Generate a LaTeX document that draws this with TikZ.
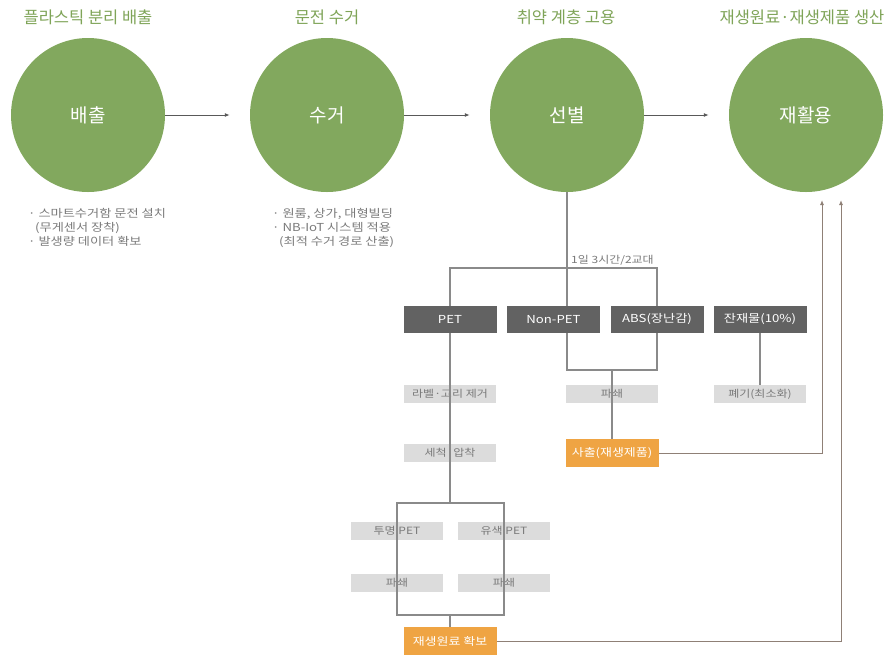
\documentclass[tikz,border=0pt]{standalone}
\usepackage{fontspec}
\setmainfont{Noto Sans CJK KR}
\newfontfamily\widekr[FakeStretch=1.2]{Noto Sans CJK KR}
\usetikzlibrary{arrows.meta}
\pgfdeclarelayer{links}
\pgfdeclarelayer{top}
\pgfsetlayers{main,links,top}

\definecolor{leaf}{HTML}{82A85E}
\definecolor{leaftext}{HTML}{7FA458}
\definecolor{boxdark}{HTML}{626262}
\definecolor{boxlight}{HTML}{DCDCDC}
\definecolor{amber}{HTML}{EFA443}
\definecolor{wire}{HTML}{8A8A8A}
\definecolor{feed}{HTML}{8F8076}
\definecolor{notegray}{HTML}{7A7A7A}

\tikzset{
  stage/.style={circle, fill=leaf, minimum size=154pt, inner sep=0pt, text=white,
    font=\fontsize{19}{21}\selectfont},
  headline/.style={text=leaftext, font=\fontsize{16.5}{18}\selectfont},
  note/.style={text=notegray, anchor=north west, align=left, inner sep=0pt,
    font=\widekr\fontsize{11}{14}\selectfont},
  sortbox/.style={fill=boxdark, text=white, minimum width=93pt, minimum height=27pt,
    inner sep=0pt, font=\widekr\fontsize{11}{12}\selectfont},
  workbox/.style={fill=boxlight, text=notegray, minimum width=92pt, minimum height=18pt,
    inner sep=0pt, font=\widekr\fontsize{10}{11}\selectfont},
  outbox/.style={fill=amber, text=white, minimum width=93pt, minimum height=28pt,
    inner sep=0pt, font=\widekr\fontsize{10.8}{12}\selectfont},
  link/.style={draw=wire, line width=1.1pt},
  flow/.style={draw=black!65, line width=1pt, -{Latex[length=5pt,width=4pt]}},
  feedback/.style={draw=feed, line width=1pt, -{Latex[length=5pt,width=4pt]}},
  shiftnote/.style={text=notegray, font=\widekr\fontsize{10}{11}\selectfont,
    anchor=south west, inner sep=1pt}
}

\begin{document}
\begin{tikzpicture}[x=1pt, y=-1pt]
\useasboundingbox (0,0) rectangle (885,657);

% stage headings
\node[headline] (h1) at (88,17) {플라스틱 분리 배출};
\node[headline] (h2) at (327,17) {문전 수거};
\node[headline] (h3) at (566,17) {취약 계층 고용};
\node[headline] (h4) at (802,17) {재생원료·재생제품 생산};

% main stages
\node[stage] (emit) at (88,115) {배출};
\node[stage] (collect) at (327,115) {수거};
\node[stage] (sel) at (567,115) {선별};
\node[stage] (rec) at (806,115) {재활용};

\draw[flow, shorten >=20pt] (emit) -- (collect);
\draw[flow, shorten >=20pt] (collect) -- (sel);
\draw[flow, shorten >=20pt] (sel) -- (rec);

% stage notes
\node[note] (n1) at (28,208) {· 스마트수거함 문전 설치\\\hspace{7pt}(무게센서 장착)\\· 발생량 데이터 확보};
\node[note] (n2) at (272,208) {· 원룸, 상가, 대형빌딩\\· NB-IoT 시스템 적용\\\hspace{7pt}(최적 수거 경로 산출)};

% sorted materials and outputs
\begin{pgfonlayer}{top}
\node[sortbox] (pet) at (450,319.5) {PET};
\node[sortbox] (nonpet) at (553.5,319.5) {Non-PET};
\node[sortbox] (abs) at (657,319.5) {ABS(장난감)};
\node[sortbox] (rest) at (760,319.5) {잔재물(10\%)};
\node[outbox] (inject) at (612,453) {사출(재생제품)};
\node[outbox] (stock) at (450,641) {재생원료 확보};
\end{pgfonlayer}

% processing steps
\node[workbox] (label) at (450,394) {라벨·고리 제거};
\node[workbox] (crushA) at (612,394) {파쇄};
\node[workbox] (dump) at (760,394) {폐기(최소화)};
\node[workbox] (wash) at (450,453) {세척·압착};
\node[workbox] (clear) at (397,531) {투명 PET};
\node[workbox] (tint) at (504,531) {유색 PET};
\node[workbox] (crushL) at (397,583) {파쇄};
\node[workbox] (crushR) at (504,583) {파쇄};

% branch points
\coordinate (splitA) at (567,268);
\coordinate (mergeA) at (612,370);
\coordinate (splitB) at (450,503);
\coordinate (joinB) at (450,615);
\coordinate (tipA) at (822,200);
\coordinate (tipB) at (841,200);

\begin{pgfonlayer}{links}
\draw[link] (sel.south) |- (mergeA) -| (abs.south);
\draw[link] (pet.north) |- (splitA) -| (abs.north);
\draw[link] (mergeA) -- (inject.north);
\draw[link] (rest.south) -- (dump.north);
\draw[link] (pet.south) -- (splitB);
\draw[link] (splitB) -| (clear.north) -- (clear.north |- joinB) -- (joinB);
\draw[link] (splitB) -| (tint.north) -- (tint.north |- joinB) -- (joinB);
\draw[link] (joinB) -- (stock.north);
\draw[feedback] (inject.east) -| (tipA);
\draw[feedback] (stock.east) -| (tipB);
\end{pgfonlayer}

\node[shiftnote] (shift) at (570,266) {1일 3시간/2교대};
\end{tikzpicture}
\end{document}
